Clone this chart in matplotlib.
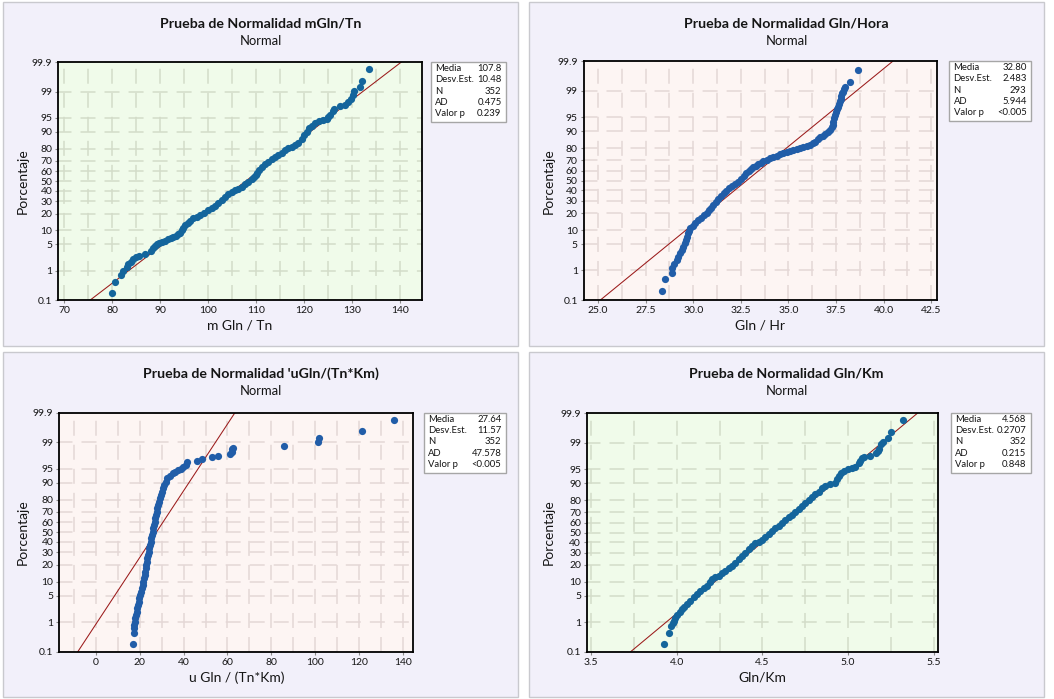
import numpy as np
import matplotlib
matplotlib.use("Agg")
import matplotlib.pyplot as plt
from matplotlib.patches import Rectangle
from statistics import NormalDist

plt.rcParams['font.family'] = ['Lato', 'DejaVu Sans']
plt.rcParams['lines.scale_dashes'] = False

# points (value, percent)
tn_val = [80.01, 80.63, 81.75, 82.30, 83.00, 83.35, 83.83, 84.39, 84.94, 85.64,
          86.82, 88.00, 88.42, 88.91, 89.25, 89.81, 90.44, 90.99, 91.69, 92.17,
          92.73, 93.22, 93.77, 94.12, 94.47, 94.81, 95.23, 95.72, 96.21, 96.90,
          97.60, 98.29, 99.12, 100.03, 100.72, 101.42, 102.11, 102.81, 103.50, 104.20,
          104.89, 105.59, 106.28, 106.98, 107.67, 108.37, 109.06, 109.55, 109.97, 110.25,
          110.66, 111.15, 111.85, 112.54, 113.24, 113.93, 114.63, 115.32, 116.02, 116.71,
          117.41, 118.10, 118.80, 119.49, 119.98, 120.53, 121.09, 121.58, 122.27, 123.18,
          123.87, 124.84, 125.05, 125.40, 125.96, 126.30, 127.49, 128.53, 129.22, 129.71,
          130.27, 130.47, 131.66, 132.00, 133.53]
tn_pct = [0.18, 0.45, 0.73, 0.98, 1.31, 1.56, 1.82, 2.15, 2.38, 2.58,
          2.85, 3.54, 4.03, 4.59, 5.02, 5.29, 5.68, 6.09, 6.52, 6.85,
          7.20, 7.69, 8.33, 9.03, 10.2, 11.3, 12.7, 14.0, 15.2, 16.7,
          17.8, 18.9, 20.6, 22.7, 24.0, 25.9, 28.2, 31.2, 34.4, 36.9,
          38.9, 40.6, 42.3, 44.3, 46.7, 49.5, 52.2, 54.0, 56.4, 58.8,
          61.4, 64.7, 67.2, 69.4, 71.5, 73.5, 75.2, 77.1, 79.1, 80.4,
          81.5, 82.6, 84.2, 86.2, 88.5, 90.1, 91.5, 92.4, 93.6, 94.2,
          94.4, 94.7, 95.3, 95.7, 96.5, 96.9, 97.4, 97.6, 98.0, 98.4,
          98.75, 99.07, 99.27, 99.55, 99.82]

hr_val = [28.38, 28.54, 28.90, 28.90, 29.01, 29.13, 29.20, 29.31, 29.39, 29.48,
          29.55, 29.62, 29.67, 29.73, 29.78, 29.85, 29.97, 30.11, 30.25, 30.41,
          30.57, 30.72, 30.85, 30.95, 31.06, 31.18, 31.32, 31.46, 31.60, 31.74,
          31.88, 32.04, 32.19, 32.37, 32.51, 32.65, 32.79, 32.91, 33.03, 33.16,
          33.28, 33.42, 33.54, 33.68, 33.86, 34.03, 34.21, 34.38, 34.56, 34.73,
          34.91, 35.08, 35.26, 35.43, 35.61, 35.78, 35.96, 36.13, 36.27, 36.39,
          36.53, 36.66, 36.80, 36.92, 37.06, 37.18, 37.27, 37.32, 37.36, 37.39,
          37.44, 37.50, 37.55, 37.62, 37.67, 37.71, 37.74, 37.76, 37.81, 37.85,
          37.92, 37.97, 38.25, 38.65]
hr_pct = [0.22, 0.53, 0.86, 1.16, 1.55, 2.00, 2.45, 3.12, 3.63, 4.37,
          5.23, 6.23, 7.35, 8.63, 9.77, 10.9, 12.2, 13.7, 15.2, 16.9,
          18.5, 20.4, 22.4, 24.2, 26.4, 28.7, 31.7, 34.6, 37.2, 39.8,
          42.5, 44.9, 46.9, 49.0, 51.7, 54.5, 57.5, 60.2, 61.9, 63.5,
          65.1, 66.7, 67.9, 69.5, 70.7, 71.8, 73.0, 74.1, 75.5, 76.6,
          77.4, 78.1, 78.9, 79.4, 80.1, 80.6, 81.3, 82.2, 83.3, 84.4,
          85.8, 86.9, 87.6, 88.5, 89.5, 90.5, 91.6, 92.5, 93.7, 94.7,
          95.5, 96.3, 96.8, 97.2, 97.6, 98.0, 98.3, 98.6, 98.8, 98.94,
          99.10, 99.22, 99.47, 99.79]

uk_val = [16.84, 17.44, 17.44, 17.59, 17.90, 18.05, 18.35, 18.66, 18.96, 19.26,
          19.57, 19.87, 20.17, 20.63, 20.93, 21.39, 21.69, 21.99, 22.30, 22.45,
          22.75, 23.06, 23.21, 23.51, 23.81, 24.12, 24.42, 24.72, 25.03, 25.33,
          25.63, 25.94, 26.24, 26.54, 26.85, 27.15, 27.45, 27.76, 28.06, 28.51,
          28.82, 29.27, 29.58, 30.03, 30.49, 31.09, 31.85, 32.61, 33.82, 35.04,
          36.25, 37.62, 38.83, 39.89, 40.95, 41.71, 46.0, 48.5, 53.1, 55.5,
          61.1, 61.9, 62.2, 62.6, 85.7, 101.3, 101.5, 121.0, 135.8]
uk_pct = [0.19, 0.47, 0.64, 0.82, 1.03, 1.29, 1.61, 1.99, 2.44, 2.98,
          3.62, 4.35, 5.21, 6.19, 7.31, 8.59, 10.0, 11.6, 13.4, 15.3,
          17.5, 19.8, 22.3, 24.9, 27.7, 30.7, 33.8, 37.0, 40.3, 43.7,
          47.1, 50.5, 53.9, 57.3, 60.7, 64.0, 67.2, 70.2, 73.1, 75.9,
          78.5, 80.9, 83.2, 85.2, 87.2, 88.9, 90.4, 91.8, 92.8, 93.6,
          94.1, 94.5, 95.0, 95.5, 96.0, 96.45, 96.72, 97.02, 97.35, 97.56,
          97.84, 98.13, 98.39, 98.49, 98.68, 98.99, 99.24, 99.54, 99.81]

gk_val = [3.928, 3.953, 3.969, 3.977, 3.982, 3.988, 4.002, 4.017, 4.031, 4.045,
          4.060, 4.080, 4.099, 4.119, 4.138, 4.158, 4.177, 4.193, 4.206, 4.226,
          4.245, 4.265, 4.284, 4.303, 4.323, 4.342, 4.362, 4.381, 4.401, 4.420,
          4.439, 4.459, 4.479, 4.498, 4.517, 4.537, 4.556, 4.576, 4.595, 4.615,
          4.634, 4.654, 4.673, 4.693, 4.712, 4.731, 4.751, 4.770, 4.790, 4.809,
          4.829, 4.848, 4.868, 4.897, 4.926, 4.936, 4.945, 4.959, 4.975, 4.998,
          5.023, 5.043, 5.062, 5.072, 5.082, 5.091, 5.126, 5.165, 5.173, 5.183,
          5.193, 5.202, 5.233, 5.253, 5.319]
gk_pct = [0.19, 0.47, 0.77, 0.97, 1.11, 1.36, 1.62, 1.92, 2.32, 2.72,
          3.19, 3.86, 4.64, 5.54, 6.58, 7.38, 8.40, 9.82, 11.2, 12.3,
          13.2, 14.5, 16.1, 17.6, 19.2, 21.7, 24.3, 27.1, 30.1, 33.1,
          36.3, 38.9, 40.6, 42.3, 45.7, 48.5, 51.2, 54.3, 57.0, 60.1,
          62.7, 65.3, 67.8, 70.3, 72.9, 75.4, 77.5, 80.0, 82.4, 84.1,
          85.5, 87.4, 88.6, 89.4, 90.2, 91.6, 92.9, 93.8, 94.6, 95.0,
          95.2, 95.6, 96.4, 96.8, 97.3, 97.5, 97.6, 98.0, 98.3, 98.5,
          98.9, 99.07, 99.27, 99.55, 99.82]

titles = ['Prueba de Normalidad mGln/Tn', 'Prueba de Normalidad Gln/Hora',
          "Prueba de Normalidad 'uGln/(Tn*Km)", 'Prueba de Normalidad Gln/Km']
xlabels = ['m Gln / Tn', 'Gln / Hr', 'u Gln / (Tn*Km)', 'Gln/Km']
media = [107.8, 32.80, 27.64, 4.568]
desv = [10.48, 2.483, 11.57, 0.2707]
n_obs = [352, 293, 352, 352]
ad_txt = ['0.475', '5.944', '47.578', '0.215']
p_txt = ['0.239', '<0.005', '<0.005', '0.848']
xticks = [[70, 80, 90, 100, 110, 120, 130, 140],
          [25.0, 27.5, 30.0, 32.5, 35.0, 37.5, 40.0, 42.5],
          [0, 20, 40, 60, 80, 100, 120, 140],
          [3.5, 4.0, 4.5, 5.0, 5.5]]
xfmt = ['%d', '%.1f', '%d', '%.1f']
pct_ticks = [0.1, 1, 5, 10, 20, 30, 40, 50, 60, 70, 80, 90, 95, 99, 99.9]
pct_lbl = ['0.1', '1', '5', '10', '20', '30', '40', '50', '60', '70', '80', '90', '95', '99', '99.9']

series = [(tn_val, tn_pct), (hr_val, hr_pct), (uk_val, uk_pct), (gk_val, gk_pct)]

# layout in pixels
W, H = 1054, 699
GREEN, PINK = '#F0FBEA', '#FDF5F3'
layout = [
    dict(box=(3, 2, 518, 346), ax=(58.3, 62.3, 421.7, 300.0), leg=(430.7, 62.3, 506, 122.3),
         xlim=(68.75, 144.5), grid=(70, 140, 5), bg=GREEN, gc='#D3DCC9', dot='#14659C'),
    dict(box=(529, 2, 1044, 346), ax=(583.7, 61.3, 937.0, 300.0), leg=(949, 61.3, 1031, 121.3),
         xlim=(24.25, 42.8), grid=(25, 42.5, 1.25), bg=PINK, gc='#E4D7D6', dot='#215DA8'),
    dict(box=(3, 352, 518, 697), ax=(59.3, 412.7, 413.3, 651.7), leg=(423.7, 413, 506, 473),
         xlim=(-16.53, 144.55), grid=(-10, 140, 10), bg=PINK, gc='#E4D7D6', dot='#215DA8'),
    dict(box=(529, 352, 1044, 697), ax=(587.0, 413.3, 937.7, 651.7), leg=(950.7, 413, 1031, 473),
         xlim=(3.4767, 5.5233), grid=(3.5, 5.5, 0.25), bg=GREEN, gc='#D3DCC9', dot='#14659C'),
]

_nd = NormalDist()


def _fwd(p):
    p = np.clip(np.asarray(p, dtype=float), 1e-6, 100 - 1e-6)
    return np.vectorize(lambda v: _nd.inv_cdf(v / 100.0), otypes=[float])(p)


def _inv(z):
    z = np.asarray(z, dtype=float)
    return np.vectorize(lambda v: _nd.cdf(v) * 100.0, otypes=[float])(z)


def fx(x):
    return x / W


def fy(y):
    return 1 - y / H


TXT = '#151515'
fig = plt.figure(figsize=(W / 100, H / 100), dpi=100)

for i, lay in enumerate(layout):
    x0, y0, x1, y1 = lay['box']
    fig.add_artist(Rectangle((fx(x0), fy(y1)), (x1 - x0) / W, (y1 - y0) / H,
                             transform=fig.transFigure, facecolor='#F2F0FA',
                             edgecolor='#C9C9CE', lw=1, zorder=-1))
    cx = (x0 + x1) / 2
    fig.text(fx(cx), fy(y0 + 22), titles[i], ha='center', va='center',
             fontsize=10.2, fontweight='bold', color=TXT)
    fig.text(fx(cx), fy(y0 + 39), 'Normal', ha='center', va='center',
             fontsize=9.4, color=TXT)

    l, t, r, b = lay['ax']
    ax = fig.add_axes([fx(l), fy(b), (r - l) / W, (b - t) / H])
    ax.set_facecolor(lay['bg'])
    ax.set_yscale('function', functions=(_fwd, _inv))
    ax.set_ylim(0.1, 99.9)
    ax.set_xlim(*lay['xlim'])

    vals, pcts = series[i]
    nd = NormalDist(media[i], desv[i])
    ax.plot([nd.inv_cdf(0.001), nd.inv_cdf(0.999)], [0.1, 99.9],
            color='#9B1B1B', lw=0.75, zorder=2)
    ax.plot(vals, pcts, 'o', ms=5.2, mew=0, color=lay['dot'], zorder=3)

    ax.set_yticks(pct_ticks)
    ax.set_yticklabels(pct_lbl)
    ax.set_yticks([], minor=True)
    ax.set_xticks(xticks[i])
    ax.set_xticklabels([xfmt[i] % v for v in xticks[i]])
    g0, g1, gs = lay['grid']
    ax.set_xticks(np.arange(g0, g1 + gs / 2, gs), minor=True)
    ax.tick_params(which='minor', length=0)
    ax.tick_params(which='major', direction='out', length=2.5, width=0.8,
                   color='#8A8A8A', labelsize=7.5, pad=1.8, labelcolor=TXT)
    ax.xaxis.grid(True, which='both', color=lay['gc'], lw=1.1,
                  linestyle=(0, (10.8, 6.5)))
    ax.yaxis.grid(True, which='major', color=lay['gc'], lw=1.1,
                  linestyle=(1.1, (10.8, 6.5)))
    ax.set_axisbelow(True)
    for s in ax.spines.values():
        s.set_color('black')
        s.set_linewidth(1.3)

    fig.text(fx((l + r) / 2), fy(b + 26), xlabels[i], ha='center', va='center',
             fontsize=10, color=TXT)
    fig.text(fx(x0 + 20), fy((t + b) / 2), 'Porcentaje', ha='center', va='center',
             rotation=90, fontsize=10, color=TXT)

    # statistics box
    lx0, ly0, lx1, ly1 = lay['leg']
    fig.add_artist(Rectangle((fx(lx0), fy(ly1)), (lx1 - lx0) / W, (ly1 - ly0) / H,
                             transform=fig.transFigure, facecolor='white',
                             edgecolor='#A6A6A6', lw=1, zorder=1))
    rows = [('Media', '%#.4g' % media[i]), ('Desv.Est.', '%#.4g' % desv[i]),
            ('N', str(n_obs[i])), ('AD', ad_txt[i]), ('Valor p', p_txt[i])]
    for k, (lab, val) in enumerate(rows):
        yy = fy(ly0 + 6.2 + 11.35 * k)
        fig.text(fx(lx0 + 4.5), yy, lab, ha='left', va='center', fontsize=6.8, color=TXT)
        fig.text(fx(lx1 - 4.5), yy, val, ha='right', va='center', fontsize=6.8, color=TXT)

fig.savefig('out.png', dpi=100)
